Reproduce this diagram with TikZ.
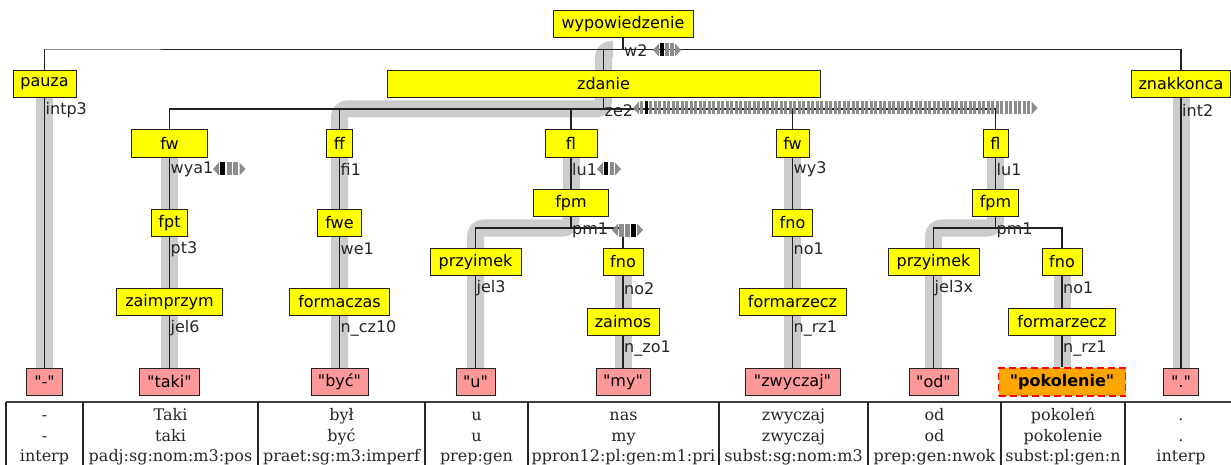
\documentclass[tikz,border=0pt]{standalone}
\usepackage{fontspec}
\setmainfont{DejaVu Sans}
\newfontfamily\nodefont{DejaVu Sans}
\newfontfamily\tabfont{DejaVu Serif}
\definecolor{nyellow}{RGB}{255,255,0}
\definecolor{tpink}{RGB}{255,153,153}
\definecolor{torange}{RGB}{255,165,0}
\definecolor{bandgray}{RGB}{204,204,204}
\definecolor{slgray}{RGB}{140,140,140}
\definecolor{edgecol}{RGB}{34,34,34}
\pgfdeclarelayer{bandlayer}
\pgfdeclarelayer{edgelayer}
\pgfsetlayers{bandlayer,edgelayer,main}
\newcommand{\slidermark}[5]{%
  \fill[slgray] (#1,#2) -- ({#1+6},{#2-6.5}) -- ({#1+6},{#2+6.5}) -- cycle;
  \foreach \i in {1,...,#3} \fill[slgray] ({#1+7+(\i-1)*#5},{#2-6.5}) rectangle ++({#5-1.5},13);
  \fill[black] ({#1+7+(#4-1)*#5},{#2-6.5}) rectangle ++({#5-1.5},13);
  \fill[slgray] ({#1+7+#3*#5},{#2-6.5}) -- ({#1+13+#3*#5},{#2}) -- ({#1+7+#3*#5},{#2+6.5}) -- cycle;
}
\tikzset{
  cat/.style={draw=edgecol, fill=nyellow, line width=0.9pt, minimum height=27.5pt, inner sep=0pt, font=\nodefont\fontsize{16}{18}\selectfont},
  term/.style={draw=edgecol, fill=tpink, line width=0.9pt, minimum height=27.5pt, inner sep=0pt, font=\nodefont\fontsize{16}{18}\selectfont},
  headterm/.style={draw=red, fill=torange, line width=1.8pt, dash pattern=on 7pt off 4pt, minimum height=27.5pt, inner sep=0pt, font=\nodefont\fontsize{16}{18}\selectfont\bfseries},
  lbl/.style={anchor=west, inner xsep=1pt, inner ysep=0pt, font=\nodefont\fontsize{16}{18}\selectfont, text=black!85},
  edge/.style={draw=edgecol, line width=1.4pt},
  band/.style={draw=bandgray, line width=17pt, rounded corners=8pt},
  tabtxt/.style={anchor=base, inner sep=0pt, font=\tabfont\fontsize{16}{18}\selectfont, text=black!85},
  tabline/.style={draw=black!75, line width=1.2pt},
}
\begin{document}
\begin{tikzpicture}[x=1pt,y=-1pt]
\useasboundingbox (0,0) rectangle (1231,465);
% ---------- nodes ----------
\node[cat, minimum width=140pt] (wyp) at (623,24) {wypowiedzenie};
\node[cat, minimum width=63pt] (pauza) at (44.5,84) {pauza};
\node[cat, minimum width=433pt] (zdanie) at (603.5,84) {zdanie};
\node[cat, minimum width=99pt] (znak) at (1181,84) {znakkonca};
\node[cat, minimum width=76pt] (fw1) at (169.5,143.5) {fw};
\node[cat, minimum width=26pt] (ff) at (339.5,143.5) {ff};
\node[cat, minimum width=52pt] (fl1) at (571,143.5) {fl};
\node[cat, minimum width=33pt] (fw2) at (792.5,143.5) {fw};
\node[cat, minimum width=25pt] (fl2) at (995.5,143.5) {fl};
\node[cat, minimum width=36pt] (fpt) at (169.5,223) {fpt};
\node[cat, minimum width=44pt] (fwe) at (339.5,223) {fwe};
\node[cat, minimum width=75pt] (fpm1) at (571,203) {fpm};
\node[cat, minimum width=40pt] (fno2) at (792.5,223) {fno};
\node[cat, minimum width=46pt] (fpm2) at (995.5,203) {fpm};
\node[cat, minimum width=91pt] (przy1) at (475.5,262) {przyimek};
\node[cat, minimum width=40pt] (fno1) at (623,262) {fno};
\node[cat, minimum width=91pt] (przy2) at (933.5,262) {przyimek};
\node[cat, minimum width=40pt] (fno3) at (1062,262) {fno};
\node[cat, minimum width=106pt] (zaimprzym) at (169.5,302) {zaimprzym};
\node[cat, minimum width=100pt] (formaczas) at (339.5,302) {formaczas};
\node[cat, minimum width=107pt] (formarz1) at (792.5,302) {formarzecz};
\node[cat, minimum width=72pt] (zaimos) at (623,322) {zaimos};
\node[cat, minimum width=107pt] (formarz2) at (1062,322) {formarzecz};
\node[term, minimum width=36pt] (tdash) at (44.5,382) {"-"};
\node[term, minimum width=60pt] (ttaki) at (169.5,382) {"taki"};
\node[term, minimum width=57pt] (tbyc) at (339.5,382) {"być"};
\node[term, minimum width=39pt] (tu) at (475.5,382) {"u"};
\node[term, minimum width=54pt] (tmy) at (623,382) {"my"};
\node[term, minimum width=95pt] (tzw) at (792.5,382) {"zwyczaj"};
\node[term, minimum width=49pt] (tod) at (933.5,382) {"od"};
\node[headterm, minimum width=127pt] (tpok) at (1062,382) {"pokolenie"};
\node[term, minimum width=35pt] (tdot) at (1181,382) {"."};
% ---------- junctions ----------
\coordinate (j0) at (623,49.5);
\coordinate (j1) at (603.5,109);
\coordinate (j3) at (571,228);
\coordinate (j4) at (995.5,228);
% ---------- bands ----------
\begin{pgfonlayer}{bandlayer}
\draw[band] (pauza.south) -- (tdash.north);
\draw[band] (zdanie.north) |- ([xshift=9.5pt]zdanie.north |- j0);
\draw[band] (zdanie.south) |- (ff.north |- j1) -- (tbyc.north);
\draw[band] (fw1.south) -- (ttaki.north);
\draw[band] (fl1.south) -- (fpm1.north);
\draw[band] (fpm1.south) |- (przy1.north |- j3) -- (tu.north);
\draw[band] (fno1.south) -- (tmy.north);
\draw[band] (fw2.south) -- (tzw.north);
\draw[band] (fl2.south) -- (fpm2.north);
\draw[band] (fpm2.south) |- (przy2.north |- j4) -- (tod.north);
\draw[band] (fno3.south) -- (tpok.north);
\draw[band] (znak.south) -- (tdot.north);
\end{pgfonlayer}
% ---------- edges ----------
\begin{pgfonlayer}{edgelayer}
\draw[edge] (wyp.south) -- (j0);
\draw[edge] (j0) -| (pauza.north);
\draw[edge] (j0) -| (zdanie.north);
\draw[edge] (j0) -| (znak.north);
\draw[line width=1.4pt, draw=black!45] (pauza.north |- j0) -- ++(116,0);
\draw[edge] (zdanie.south) -- (j1);
\foreach \n in {fw1,ff,fl1,fw2,fl2} \draw[edge] (j1) -| (\n.north);
\draw[edge] (pauza.south) -- (tdash.north);
\draw[edge] (fw1.south) -- (fpt.north);
\draw[edge] (fpt.south) -- (zaimprzym.north);
\draw[edge] (zaimprzym.south) -- (ttaki.north);
\draw[edge] (ff.south) -- (fwe.north);
\draw[edge] (fwe.south) -- (formaczas.north);
\draw[edge] (formaczas.south) -- (tbyc.north);
\draw[edge] (fl1.south) -- (fpm1.north);
\draw[edge] (fpm1.south) -- (j3);
\draw[edge] (j3) -| (przy1.north);
\draw[edge] (j3) -| (fno1.north);
\draw[edge] (przy1.south) -- (tu.north);
\draw[edge] (fno1.south) -- (zaimos.north);
\draw[edge] (zaimos.south) -- (tmy.north);
\draw[edge] (fw2.south) -- (fno2.north);
\draw[edge] (fno2.south) -- (formarz1.north);
\draw[edge] (formarz1.south) -- (tzw.north);
\draw[edge] (fl2.south) -- (fpm2.north);
\draw[edge] (fpm2.south) -- (j4);
\draw[edge] (j4) -| (przy2.north);
\draw[edge] (j4) -| (fno3.north);
\draw[edge] (przy2.south) -- (tod.north);
\draw[edge] (fno3.south) -- (formarz2.north);
\draw[edge] (formarz2.south) -- (tpok.north);
\draw[edge] (znak.south) -- (tdot.north);
% sliders
\slidermark{653}{50}{3}{1}{5}
\slidermark{633}{108}{87}{2}{4.5}
\slidermark{213}{169}{3}{1}{6.5}
\slidermark{597}{169}{2}{1}{5.5}
\slidermark{612}{230}{3}{3}{6}
\end{pgfonlayer}
% ---------- labels ----------
\node[lbl] (lw2) at ([yshift=-12pt]wyp.south) {w2};
\node[lbl] (lintp3) at ([yshift=-12pt]pauza.south) {intp3};
\node[lbl] (lze2) at ([yshift=-12pt]zdanie.south) {ze2};
\node[lbl] (lint2) at ([yshift=-12pt]znak.south) {int2};
\node[lbl] (lwya1) at ([yshift=-12pt]fw1.south) {wya1};
\node[lbl] (lfi1) at ([yshift=-12pt]ff.south) {fi1};
\node[lbl] (llu1a) at ([yshift=-12pt]fl1.south) {lu1};
\node[lbl] (lwy3) at ([yshift=-12pt]fw2.south) {wy3};
\node[lbl] (llu1b) at ([yshift=-12pt]fl2.south) {lu1};
\node[lbl] (lpt3) at ([yshift=-12pt]fpt.south) {pt3};
\node[lbl] (lwe1) at ([yshift=-12pt]fwe.south) {we1};
\node[lbl] (lpm1a) at ([yshift=-13pt]fpm1.south) {pm1};
\node[lbl] (lno1a) at ([yshift=-12pt]fno2.south) {no1};
\node[lbl] (lpm1b) at ([yshift=-13pt]fpm2.south) {pm1};
\node[lbl] (ljel3) at ([yshift=-12pt]przy1.south) {jel3};
\node[lbl] (lno2) at ([yshift=-12pt]fno1.south) {no2};
\node[lbl] (ljel3x) at ([yshift=-12pt]przy2.south) {jel3x};
\node[lbl] (lno1b) at ([yshift=-12pt]fno3.south) {no1};
\node[lbl] (ljel6) at ([yshift=-12pt]zaimprzym.south) {jel6};
\node[lbl] (lncz) at ([yshift=-12pt]formaczas.south) {n\_cz10};
\node[lbl] (lnrza) at ([yshift=-12pt]formarz1.south) {n\_rz1};
\node[lbl] (lnzo) at ([yshift=-12pt]zaimos.south) {n\_zo1};
\node[lbl] (lnrzb) at ([yshift=-12pt]formarz2.south) {n\_rz1};
% ---------- table ----------
\draw[tabline] (6,402) -- (1231,402);
\foreach \x in {6,83,258,425,528,719,868,1001,1125} \draw[tabline, line width=1.6pt, draw=black!85] (\x,402) -- (\x,466);
\foreach \cx/\wa/\wb/\wc [count=\i] in {44.5/-/-/interp, 170.5/Taki/taki/padj:sg:nom:m3:pos, 341.5/był/być/praet:sg:m3:imperf, 476.5/u/u/prep:gen, 623.5/nas/my/ppron12:pl:gen:m1:pri, 793.5/zwyczaj/zwyczaj/subst:sg:nom:m3, 934.5/od/od/prep:gen:nwok, 1063/pokoleń/pokolenie/subst:pl:gen:n, 1181/././interp}{
  \node[tabtxt] (ta\i) at (\cx,420) {\wa};
  \node[tabtxt] (tb\i) at (\cx,441) {\wb};
  \node[tabtxt] (tc\i) at (\cx,461) {\wc};
}
\end{tikzpicture}
\end{document}
